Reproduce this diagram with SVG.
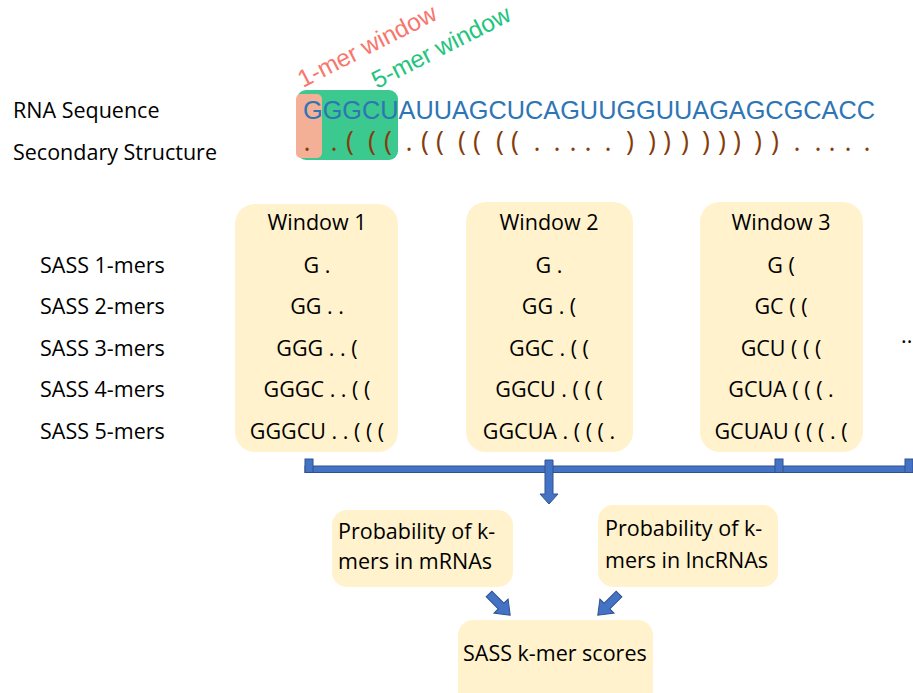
<svg xmlns="http://www.w3.org/2000/svg" width="913" height="693" viewBox="0 0 913 693">
<defs>
<style>
.lbl{font-family:"Open Sans","Liberation Sans",sans-serif;font-size:21.5px;fill:#000}
.mid{text-anchor:middle}
.box{fill:#FFF2CC}
.seq{font-family:"Liberation Sans",Arial,sans-serif;font-size:25.3px;fill:#2E75B6}
.ss{font-family:"Open Sans","Liberation Sans",sans-serif;font-size:27px;fill:#843C0C}
.blue{fill:#4472C4;stroke:#2F528F;stroke-width:1}
.rot{font-family:"Liberation Sans",Arial,sans-serif;font-size:24.5px}
</style>
</defs>
<rect width="913" height="693" fill="#fff"/>

<g id="labels">
<text class="lbl" x="13" y="118">RNA Sequence</text>
<text class="lbl" x="13" y="160">Secondary Structure</text>
<text class="lbl" x="40" y="273">SASS 1-mers</text>
<text class="lbl" x="40" y="314">SASS 2-mers</text>
<text class="lbl" x="40" y="356">SASS 3-mers</text>
<text class="lbl" x="40" y="397">SASS 4-mers</text>
<text class="lbl" x="40" y="439">SASS 5-mers</text>
</g>

<g id="windows-highlight">
<rect x="297" y="90" width="101" height="70" rx="9" fill="#3BC98F"/>
<rect x="296" y="94" width="26" height="64" rx="5" fill="#F3B096"/>
<text class="rot" fill="#F8766D" transform="translate(303,88) rotate(-27)">1-mer window</text>
<text class="rot" fill="#22C47E" transform="translate(377,89) rotate(-27)">5-mer window</text>
</g>

<g id="sequence">
<text class="seq" x="303" y="119" textLength="572" lengthAdjust="spacingAndGlyphs">GGGCUAUUAGCUCAGUUGGUUAGAGCGCACC</text>
<text class="ss" y="151" text-anchor="middle" x="307 334 350 372 388 409 425 440 462 477 500 515 537 557 573 588 608 630 652 667 685 706 722 737 758 775 797 818 832 848 867">..(((.((((((.....))))))))).....</text>
</g>

<g id="window1">
<rect class="box" x="235" y="204" width="163" height="248" rx="20"/>
<text class="lbl mid" x="317" y="230">Window 1</text>
<text class="lbl mid" x="317" y="273">G .</text>
<text class="lbl mid" x="317" y="314">GG . .</text>
<text class="lbl mid" x="317" y="356">GGG . . (</text>
<text class="lbl mid" x="317" y="397">GGGC . . ( (</text>
<text class="lbl mid" x="317" y="439">GGGCU . . ( ( (</text>
</g>

<g id="window2">
<rect class="box" x="466" y="202" width="167" height="250" rx="20"/>
<text class="lbl mid" x="549" y="230">Window 2</text>
<text class="lbl mid" x="549" y="273">G .</text>
<text class="lbl mid" x="549" y="314">GG . (</text>
<text class="lbl mid" x="549" y="356">GGC . ( (</text>
<text class="lbl mid" x="549" y="397">GGCU . ( ( (</text>
<text class="lbl mid" x="549" y="439">GGCUA . ( ( ( .</text>
</g>

<g id="window3">
<rect class="box" x="700" y="202" width="163" height="250" rx="20"/>
<text class="lbl mid" x="781" y="230">Window 3</text>
<text class="lbl mid" x="781" y="273">G (</text>
<text class="lbl mid" x="781" y="314">GC ( (</text>
<text class="lbl mid" x="781" y="356">GCU ( ( (</text>
<text class="lbl mid" x="781" y="397">GCUA ( ( ( .</text>
<text class="lbl mid" x="781" y="439">GCUAU ( ( ( . (</text>
</g>

<g id="ellipsis">
<text class="lbl" x="901" y="343">..</text>
</g>

<g id="prob-mrna">
<rect class="box" x="332" y="510" width="181" height="77" rx="15"/>
<text class="lbl" x="338" y="539">Probability of k-</text>
<text class="lbl" x="338" y="569">mers in mRNAs</text>
</g>

<g id="prob-lncrna">
<rect class="box" x="598" y="505" width="180" height="82" rx="15"/>
<text class="lbl" x="605" y="536">Probability of k-</text>
<text class="lbl" x="605" y="568">mers in lncRNAs</text>
</g>

<g id="scores">
<rect class="box" x="458" y="620" width="195" height="90" rx="15"/>
<text class="lbl" x="463" y="661">SASS k-mer scores</text>
</g>

<g id="connectors">
<rect class="blue" x="305" y="466" width="607" height="6.5"/>
<rect class="blue" x="305" y="459" width="8" height="13.5"/>
<rect class="blue" x="775" y="459" width="8" height="13.5"/>
<rect class="blue" x="905" y="459" width="8" height="13.5"/>
<polygon class="blue" points="545,460 553,460 553,494 558,494 549,504 540,494 545,494"/>
<polygon class="blue" transform="translate(489,594) rotate(45)" points="0,-4 17,-4 17,-10 30,0 17,10 17,4 0,4"/>
<polygon class="blue" transform="translate(619,594) rotate(135)" points="0,-4 17,-4 17,-10 30,0 17,10 17,4 0,4"/>
</g>
</svg>
